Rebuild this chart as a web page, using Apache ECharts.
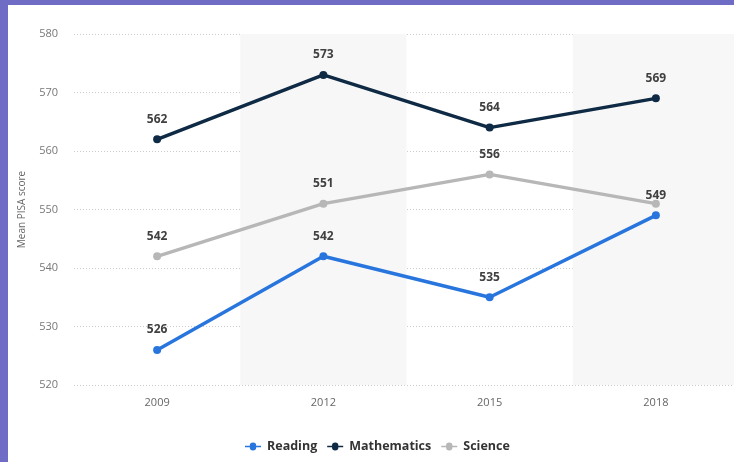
<!DOCTYPE html>
<html><head><meta charset="utf-8">
<script src="https://cdn.jsdelivr.net/npm/echarts@6/dist/echarts.min.js"></script>
<style>
html,body{margin:0;padding:0;background:#fff;}
#c{position:absolute;left:0;top:0;width:734px;height:462px;}
.bl{position:absolute;left:0;top:0;width:8px;height:462px;background:#6f6cc6;}
.bt{position:absolute;left:0;top:0;width:734px;height:5px;background:#6f6cc6;}
</style></head><body>
<div id="c"></div><div class="bl"></div><div class="bt"></div>
<script>
const years = ['2009','2012','2015','2018'];
const reading = [526, 542, 535, 549];
const mathematics = [562, 573, 564, 569];
const science = [542, 551, 556, 551];
const yTicks = [520, 530, 540, 550, 560, 570, 580];

const chart = echarts.init(document.getElementById('c'));
const lbl = {show:true, position:'top', distance:10, fontFamily:'Open Sans', fontWeight:'bold', fontSize:12, color:'#404040'};
function ser(name, data, color, hideIdx){
  return {
    name, type:'line', data: data.map((v,i)=> i===hideIdx ? {value:v, label:{show:false}} : v),
    symbol:'circle', symbolSize:8, lineStyle:{width:3.5, color}, itemStyle:{color},
    label: lbl, z: 3
  };
}
chart.setOption({
  animation:false,
  textStyle:{fontFamily:'Open Sans'},
  grid:{left:74, top:34, bottom:77, width:665, containLabel:false, outerBoundsMode:'none'},
  legend:{bottom:4, left:240, itemWidth:20, itemHeight:8, itemGap:10,
    icon:'path://M0,4 L6,4 A4,4 0 1 1 14,4 L20,4 L20,6 L14,6 A4,4 0 1 1 6,6 L0,6 Z',
    textStyle:{fontFamily:'Open Sans', fontWeight:'bold', fontSize:12.5, color:'#333', padding:[0,0,0,-1]},
    data:['Reading','Mathematics','Science']},
  xAxis:{type:'category', data:years, boundaryGap:true,
    axisLine:{show:false}, axisTick:{show:false},
    axisLabel:{color:'#666', fontSize:11, margin:12},
    splitArea:{show:true, areaStyle:{color:['rgba(255,255,255,0)','#f7f7f7']}}},
  yAxis:{type:'value', min:520, max:580, interval:10,
    name:'Mean PISA score', nameLocation:'middle', nameGap:47,
    nameTextStyle:{color:'#666', fontSize:10},
    axisLabel:{color:'#777', fontSize:11, margin:16},
    axisLine:{show:false}, axisTick:{show:false},
    splitLine:{lineStyle:{color:'#ccc', type:[1,2], width:1}}},
  series:[
    ser('Reading', reading, '#2876dd', -1),
    ser('Mathematics', mathematics, '#0f2a44', -1),
    ser('Science', science, '#b7b7b7', 3)
  ]
});
</script></body></html>
